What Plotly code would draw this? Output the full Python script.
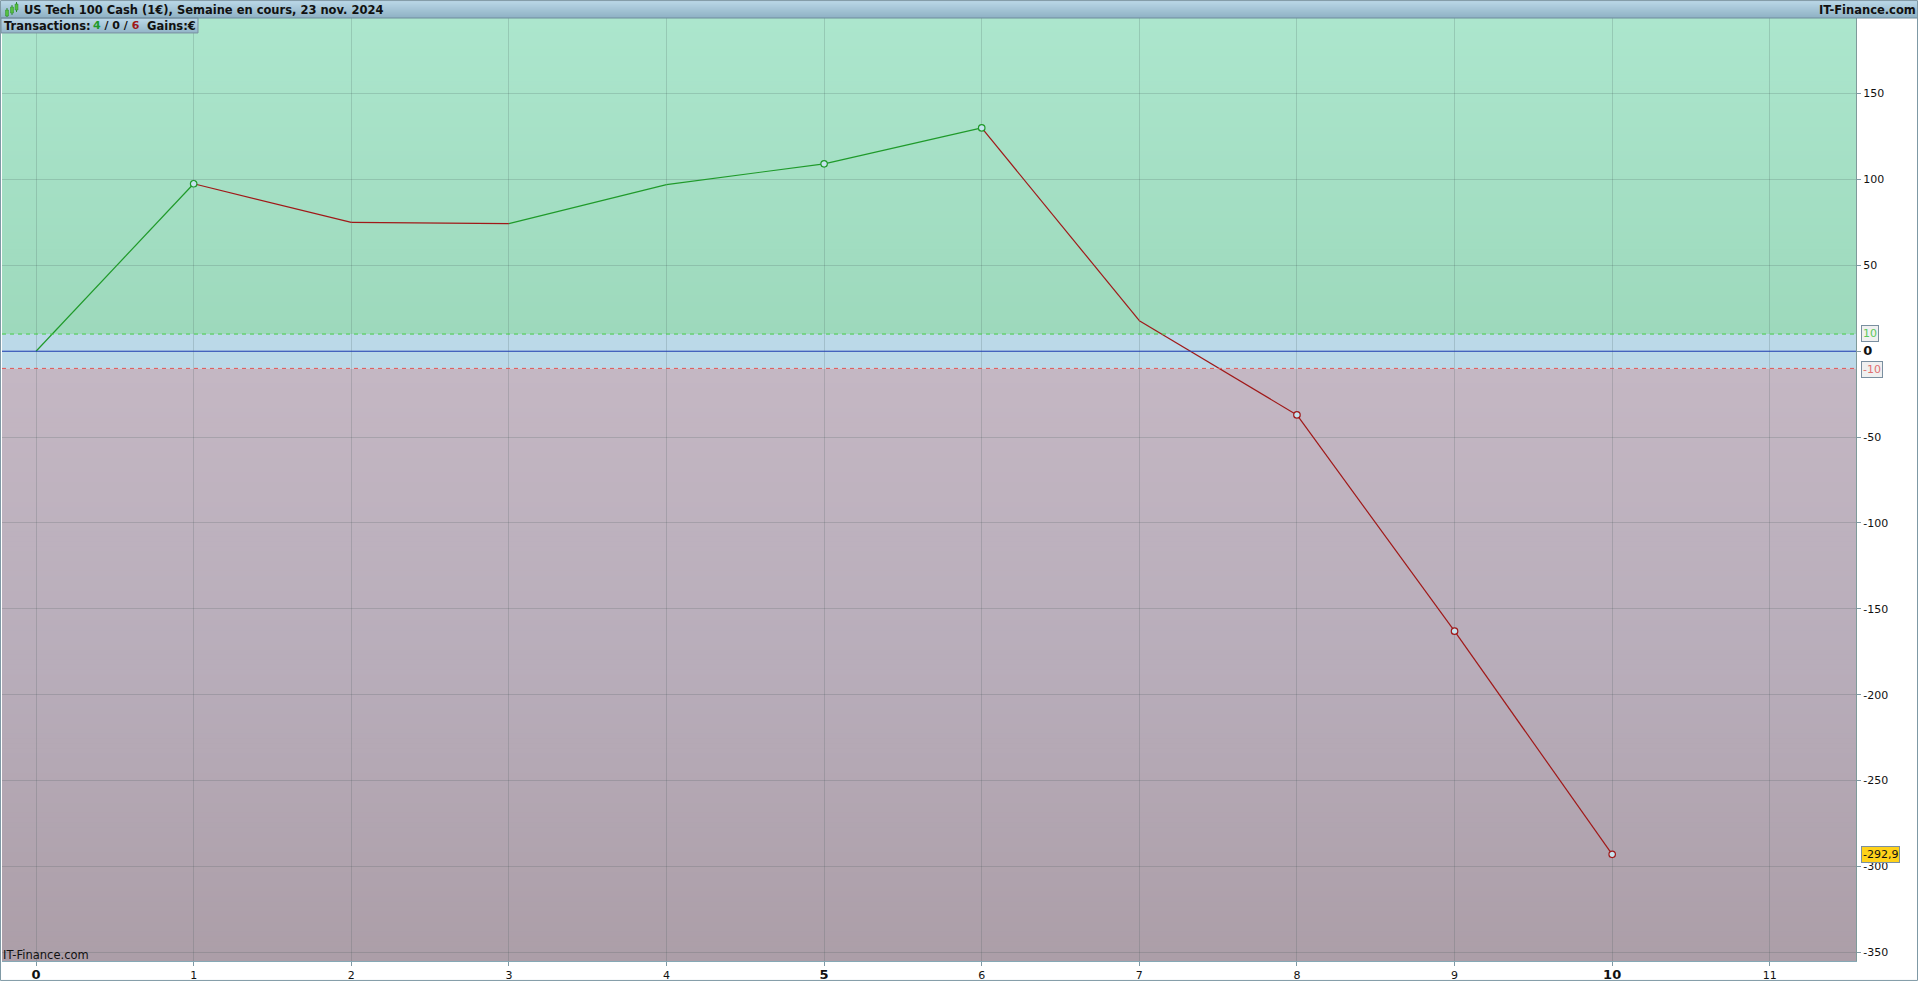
import plotly.graph_objects as go

# --- data ---
trades = [0, 1, 2, 3, 4, 5, 6, 7, 8, 9, 10]
equity = [0, 97.5, 75, 74.3, 97, 109.1, 130, 17.8, -37.1, -163, -292.9]
marked_trades = [1, 5, 6, 8, 9, 10]
x_ticks = [0, 1, 2, 3, 4, 5, 6, 7, 8, 9, 10, 11]
y_ticks = [150, 100, 50, 0, -50, -100, -150, -200, -250, -300, -350]
upper_band = 10
lower_band = -10
last_label = "-292,9"

W, H = 1918, 984
L, R, T, B = 2, 62, 18, 20
PW, PH = W - L - R, H - T - B
Y_TOP, Y_BOT = 194.0, -355.0
X_MIN, X_MAX = -0.216, 11.547
FONT = "DejaVu Sans"
GREEN = "#1f9a2a"
RED = "#a01818"


def px(x):
    return (x - L) / PW


def py(y):
    return (H - B - y) / PH


def mix(a, b, t):
    ca = [int(a[i:i + 2], 16) for i in (1, 3, 5)]
    cb = [int(b[i:i + 2], 16) for i in (1, 3, 5)]
    return "rgb(%d,%d,%d)" % tuple(round(u + (v - u) * t) for u, v in zip(ca, cb))


shapes = []


def gradient_y(top, bottom, floor, c_top, c_bot, n):
    """background band in data units; strips overlap so that no seam shows"""
    for i in range(n):
        a = top + (bottom - top) * i / n
        shapes.append(dict(type="rect", xref="x domain", yref="y", x0=0, x1=1, y0=a, y1=floor,
                           fillcolor=mix(c_top, c_bot, i / max(n - 1, 1)),
                           line_width=0, layer="below"))


def gradient_px(x0, x1, y0, y1, c_top, c_bot, layer="above"):
    n = int(y1 - y0)
    for i in range(n):
        shapes.append(dict(type="rect", xref="paper", yref="paper", x0=px(x0), x1=px(x1),
                           y0=py(y0 + i), y1=py(y1),
                           fillcolor=mix(c_top, c_bot, i / max(n - 1, 1)),
                           line_width=0, layer=layer))


def frame_px(x0, x1, y0, y1, color):
    shapes.append(dict(type="rect", xref="paper", yref="paper", x0=px(x0), x1=px(x1),
                       y0=py(y0), y1=py(y1), fillcolor="rgba(0,0,0,0)",
                       line=dict(color=color, width=1), layer="above"))


MID = (lower_band + Y_BOT) / 2
gradient_y(Y_TOP, upper_band, upper_band, "#ace6cd", "#9dd9bc", 90)
gradient_y(upper_band, lower_band, lower_band, "#bbd9e8", "#bbd9e8", 1)
gradient_y(lower_band, MID, Y_BOT, "#c4b7c3", "#b8adba", 60)
gradient_y(MID, Y_BOT, Y_BOT, "#b8adba", "#ac9ea8", 60)

# zone limits and zero line
for val, col, dash, w in [(upper_band, "#44cc44", "dash", 1), (lower_band, "#e05555", "dash", 1),
                          (0, "#2040b8", "solid", 1)]:
    shapes.append(dict(type="line", xref="x domain", yref="y", x0=0, x1=1, y0=val, y1=val,
                       line=dict(color=col, width=w, dash=dash if dash == "solid" else "4px,4px"),
                       layer="above"))

# header bar, sub header box, frames
gradient_px(1, 1917, 1, 18, "#b9d6e6", "#8fb2c5")
gradient_px(1, 198, 18, 33, "#bcd8e8", "#93b6c9")
frame_px(1, 198, 18, 33, "#7a8fa0")
frame_px(0.5, 1917.5, 0.5, 983.5, "#7f99a5")
shapes.append(dict(type="line", xref="paper", yref="paper", x0=px(1), x1=px(1917), y0=py(18), y1=py(18),
                   line=dict(color="#6f8c9c", width=1), layer="above"))

# small candle icon in the header
for cx, top, bot, wt, wb in [(7, 10, 16, 8, 17), (12, 7, 13, 5, 15), (16.5, 4, 10, 2, 12)]:
    shapes.append(dict(type="line", xref="paper", yref="paper", x0=px(cx), x1=px(cx), y0=py(wt), y1=py(wb),
                       line=dict(color="#2a8a2a", width=1), layer="above"))
    shapes.append(dict(type="rect", xref="paper", yref="paper", x0=px(cx - 1.5), x1=px(cx + 1.5),
                       y0=py(top), y1=py(bot), fillcolor="#55c040",
                       line=dict(color="#2a8a2a", width=0.5), layer="above"))

fig = go.Figure()

# equity curve: one trace per colour
gx, gy, rx, ry = [], [], [], []
for i in range(len(trades) - 1):
    up = equity[i + 1] >= equity[i]
    xs, ys = (gx, gy) if up else (rx, ry)
    xs += [trades[i], trades[i + 1], None]
    ys += [equity[i], equity[i + 1], None]
fig.add_trace(go.Scatter(x=gx, y=gy, mode="lines", line=dict(color=GREEN, width=1.2),
                         hoverinfo="skip", showlegend=False))
fig.add_trace(go.Scatter(x=rx, y=ry, mode="lines", line=dict(color=RED, width=1.2),
                         hoverinfo="skip", showlegend=False))

mx = marked_trades
my = [equity[trades.index(t)] for t in mx]
mc = [GREEN if equity[trades.index(t)] >= equity[trades.index(t) - 1] else RED for t in mx]
fig.add_trace(go.Scatter(x=mx, y=my, mode="markers",
                         marker=dict(size=6.5, color="#c5e3ee", line=dict(color=mc, width=1.2)),
                         showlegend=False))


def big(v):
    return f"<span style='font-size:13px'><b>{v}</b></span>"


def note(x, y, text, anchor="left", size=11.5):
    return dict(xref="paper", yref="paper", x=px(x), y=py(y), xanchor=anchor, yanchor="middle",
                text=text, showarrow=False, borderpad=0,
                font=dict(family=FONT, size=size, color="#111111"))


fig.update_layout(
    width=W, height=H, autosize=False,
    margin=dict(l=L, r=R, t=T, b=B, pad=0),
    paper_bgcolor="white", plot_bgcolor="white",
    font=dict(family=FONT, size=11, color="#111111"),
    showlegend=False,
    shapes=shapes,
    xaxis=dict(range=[X_MIN, X_MAX], tickvals=x_ticks,
               ticktext=[big(v) if v in (0, 5, 10) else str(v) for v in x_ticks],
               showgrid=True, gridcolor="rgba(60,80,80,0.19)", gridwidth=1, zeroline=False,
               ticks="outside", ticklen=4, tickcolor="#7f99a5", tickwidth=1,
               showline=True, linecolor="#86a8b5", linewidth=1, mirror=False,
               tickfont=dict(size=11, family=FONT, color="#111111"), fixedrange=True),
    yaxis=dict(range=[Y_BOT, Y_TOP], side="right", tickvals=y_ticks,
               ticktext=[(big(v) if v == 0 else str(v)) for v in y_ticks],
               showgrid=True, gridcolor="rgba(60,80,80,0.19)", gridwidth=1, zeroline=False,
               ticks="outside", ticklen=4, tickcolor="#7f99a5", tickwidth=1,
               showline=True, linecolor="#7f9a9a", linewidth=1,
               tickfont=dict(size=11, family=FONT, color="#111111"), fixedrange=True),
    annotations=[
        note(23, 10, "<b>US Tech 100 Cash (1€), Semaine en cours, 23 nov. 2024</b>"),
        note(1917, 10, "<b>IT-Finance.com</b>", anchor="right"),
        note(3, 26, "<b>Transactions:</b>"),
        note(92, 26, "<b><span style='color:#1f9a2a'>4</span> / 0 / "
                     "<span style='color:#a01818'>6</span></b>", size=11),
        note(146, 26, "<b>Gains:€</b>"),
        note(2, 958, "IT-Finance.com"),
        dict(xref="paper", yref="y", x=px(1861), y=upper_band + 0.5, xanchor="left", yanchor="middle",
             text=str(upper_band), showarrow=False, font=dict(family=FONT, size=11, color="#5cc85c"),
             bgcolor="#f0f0f0", bordercolor="#7a8fa0", borderwidth=1, borderpad=1),
        dict(xref="paper", yref="y", x=px(1861), y=lower_band - 0.5, xanchor="left", yanchor="middle",
             text=str(lower_band), showarrow=False, font=dict(family=FONT, size=11, color="#e07070"),
             bgcolor="#f0f0f0", bordercolor="#7a8fa0", borderwidth=1, borderpad=1),
        dict(xref="paper", yref="y", x=px(1861), y=equity[-1], xanchor="left", yanchor="middle",
             text=last_label, showarrow=False, font=dict(family=FONT, size=11, color="#111111"),
             bgcolor="#ffd21a", bordercolor="#7a8fa0", borderwidth=1, borderpad=1),
    ],
)

fig.write_html("out.html", config=dict(displayModeBar=False),
               post_script="document.body.style.margin='0';document.body.style.overflow='hidden';")
